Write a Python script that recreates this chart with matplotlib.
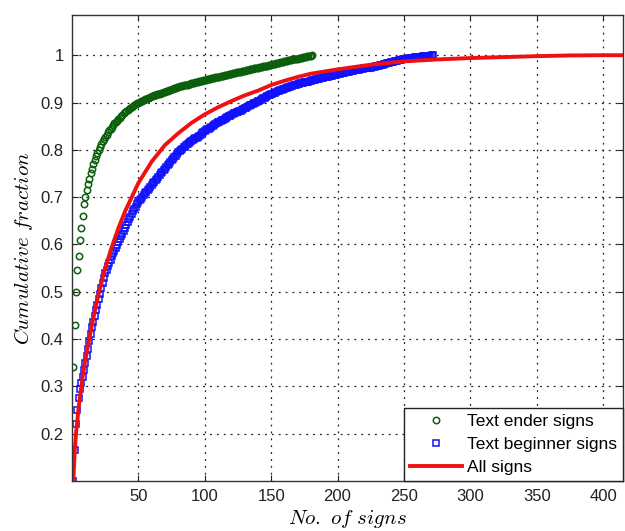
import numpy as np
import matplotlib
matplotlib.use("Agg")
import matplotlib.pyplot as plt

# ---------------- data ----------------
ender_y = [
    0.340, 0.430, 0.500, 0.545, 0.575, 0.610, 0.635, 0.660, 0.685, 0.700,
    0.715, 0.728, 0.739, 0.750, 0.760, 0.769, 0.778, 0.786, 0.793, 0.800,
    0.806, 0.812, 0.818, 0.823, 0.828, 0.832, 0.837, 0.841, 0.845, 0.849,
    0.852, 0.856, 0.859, 0.862, 0.865, 0.868, 0.871, 0.874, 0.877, 0.880,
    0.882, 0.884, 0.886, 0.888, 0.890, 0.892, 0.894, 0.896, 0.898, 0.900,
    0.901, 0.903, 0.904, 0.906, 0.907, 0.908, 0.909, 0.910, 0.912, 0.913,
    0.914, 0.915, 0.916, 0.917, 0.918, 0.919, 0.920, 0.921, 0.922, 0.923,
    0.924, 0.925, 0.926, 0.927, 0.928, 0.929, 0.930, 0.931, 0.932, 0.933,
    0.934, 0.935, 0.935, 0.936, 0.937, 0.938, 0.938, 0.939, 0.940, 0.941,
    0.941, 0.942, 0.943, 0.943, 0.944, 0.945, 0.945, 0.946, 0.947, 0.948,
    0.948, 0.949, 0.950, 0.950, 0.951, 0.952, 0.952, 0.953, 0.954, 0.954,
    0.955, 0.956, 0.956, 0.957, 0.958, 0.958, 0.959, 0.960, 0.960, 0.961,
    0.962, 0.962, 0.963, 0.964, 0.964, 0.965, 0.965, 0.966, 0.967, 0.967,
    0.968, 0.969, 0.969, 0.970, 0.971, 0.971, 0.972, 0.973, 0.973, 0.974,
    0.975, 0.975, 0.976, 0.977, 0.977, 0.978, 0.978, 0.979, 0.980, 0.980,
    0.981, 0.982, 0.982, 0.983, 0.984, 0.984, 0.985, 0.985, 0.986, 0.987,
    0.987, 0.988, 0.989, 0.989, 0.990, 0.991, 0.991, 0.992, 0.993, 0.993,
    0.994, 0.994, 0.995, 0.996, 0.996, 0.997, 0.998, 0.998, 0.999, 0.999,
    1.000,
]

beginner_y = [
    0.100, 0.165, 0.220, 0.250, 0.275, 0.295, 0.308, 0.320, 0.335, 0.350,
    0.365, 0.380, 0.395, 0.410, 0.425, 0.437, 0.449, 0.461, 0.473, 0.485,
    0.496, 0.507, 0.518, 0.529, 0.540, 0.547, 0.554, 0.561, 0.568, 0.575,
    0.581, 0.587, 0.593, 0.599, 0.605, 0.611, 0.617, 0.623, 0.629, 0.635,
    0.641, 0.647, 0.653, 0.659, 0.665, 0.670, 0.675, 0.680, 0.685, 0.690,
    0.694, 0.697, 0.701, 0.704, 0.708, 0.711, 0.715, 0.718, 0.722, 0.725,
    0.729, 0.732, 0.736, 0.739, 0.743, 0.746, 0.750, 0.753, 0.757, 0.760,
    0.764, 0.767, 0.771, 0.774, 0.778, 0.781, 0.785, 0.788, 0.792, 0.795,
    0.797, 0.800, 0.802, 0.805, 0.807, 0.810, 0.812, 0.814, 0.816, 0.818,
    0.820, 0.822, 0.824, 0.826, 0.828, 0.830, 0.832, 0.835, 0.837, 0.840,
    0.842, 0.844, 0.845, 0.847, 0.849, 0.851, 0.852, 0.854, 0.856, 0.858,
    0.859, 0.861, 0.863, 0.864, 0.866, 0.868, 0.869, 0.871, 0.872, 0.874,
    0.875, 0.877, 0.878, 0.880, 0.881, 0.882, 0.883, 0.885, 0.886, 0.888,
    0.889, 0.891, 0.892, 0.894, 0.895, 0.897, 0.898, 0.900, 0.901, 0.903,
    0.904, 0.906, 0.907, 0.909, 0.910, 0.912, 0.913, 0.915, 0.916, 0.917,
    0.919, 0.920, 0.921, 0.922, 0.924, 0.925, 0.926, 0.927, 0.928, 0.929,
    0.930, 0.931, 0.932, 0.933, 0.934, 0.935, 0.936, 0.937, 0.938, 0.939,
    0.940, 0.941, 0.941, 0.942, 0.943, 0.943, 0.944, 0.944, 0.945, 0.946,
    0.947, 0.948, 0.948, 0.949, 0.950, 0.950, 0.951, 0.952, 0.952, 0.953,
    0.954, 0.954, 0.955, 0.956, 0.956, 0.957, 0.958, 0.958, 0.959, 0.960,
    0.961, 0.961, 0.962, 0.962, 0.963, 0.964, 0.964, 0.965, 0.965, 0.966,
    0.966, 0.967, 0.968, 0.968, 0.969, 0.969, 0.970, 0.971, 0.971, 0.972,
    0.972, 0.973, 0.973, 0.974, 0.974, 0.975, 0.975, 0.976, 0.977, 0.978,
    0.978, 0.979, 0.980, 0.980, 0.981, 0.982, 0.983, 0.983, 0.984, 0.985,
    0.986, 0.986, 0.987, 0.988, 0.988, 0.989, 0.990, 0.990, 0.991, 0.992,
    0.992, 0.993, 0.993, 0.994, 0.994, 0.995, 0.995, 0.996, 0.996, 0.996,
    0.997, 0.997, 0.997, 0.998, 0.998, 0.998, 0.999, 0.999, 0.999, 0.999,
    1.000, 1.000,
]

all_x = [1, 2, 3, 5, 8, 10, 12, 15, 20, 25, 30, 35, 40, 45, 50, 60, 70, 80, 90,
         100, 110, 120, 130, 140, 150, 160, 170, 180, 200, 225, 250, 275, 300,
         325, 350, 375, 400, 415]
all_y = [0.100, 0.160, 0.200, 0.255, 0.320, 0.355, 0.385, 0.430, 0.495, 0.550,
         0.595, 0.635, 0.670, 0.700, 0.730, 0.775, 0.810, 0.835, 0.857, 0.875,
         0.890, 0.903, 0.915, 0.925, 0.937, 0.946, 0.954, 0.961, 0.970, 0.980,
         0.987, 0.991, 0.994, 0.996, 0.998, 0.9995, 1.000, 1.000]

labels = ["Text ender signs", "Text beginner signs", "All signs"]
xticks = [50, 100, 150, 200, 250, 300, 350, 400]
yticks = [0.2, 0.3, 0.4, 0.5, 0.6, 0.7, 0.8, 0.9, 1.0]
ytick_labels = ["0.2", "0.3", "0.4", "0.5", "0.6", "0.7", "0.8", "0.9", "1"]

# ---------------- plot ----------------
plt.rcParams["font.family"] = ["Liberation Sans", "DejaVu Sans"]
plt.rcParams["mathtext.fontset"] = "cm"

fig = plt.figure(figsize=(6.25, 5.31), dpi=100)
ax = fig.add_axes([72 / 625, 1 - 481 / 531, 551 / 625, 466 / 531])

ender_x = np.arange(1, len(ender_y) + 1)
beginner_x = np.arange(1, len(beginner_y) + 1)

ax.plot(ender_x, ender_y, linestyle="none", marker="o", markersize=4.6,
        markerfacecolor="none", markeredgecolor="#0b5e0b", markeredgewidth=1.1,
        label=labels[0])
ax.plot(beginner_x, beginner_y, linestyle="none", marker="s", markersize=4.2,
        markerfacecolor="none", markeredgecolor="#1010ff", markeredgewidth=1.1,
        label=labels[1])
ax.plot(all_x, all_y, color="#f01010", linewidth=2.8, label=labels[2])

ax.set_xlim(0, 415)
ax.set_ylim(0.1, 1.085)
ax.set_xticks(xticks)
ax.set_yticks(yticks)
ax.set_yticklabels(ytick_labels)

ax.grid(True, color="#222222", linestyle=(0, (1.5, 4)), linewidth=0.9)
ax.tick_params(direction="in", top=True, right=True, length=4, labelsize=12,
               pad=6, colors="#222222")
for s in ax.spines.values():
    s.set_color("#333333")
    s.set_linewidth(1.0)

ax.set_xlabel(r"$No.\ of\ signs$", fontsize=15, labelpad=3)
ax.set_ylabel(r"$Cumulative\ fraction$", fontsize=15, labelpad=4)

leg = ax.legend(loc="lower right", borderaxespad=0, fontsize=12.5,
                fancybox=False, framealpha=1, edgecolor="#222222",
                numpoints=1, handlelength=3.0, labelspacing=0.45,
                borderpad=0.35, handletextpad=0.3)
leg.get_frame().set_linewidth(1.0)

fig.savefig("out.png", dpi=100)
